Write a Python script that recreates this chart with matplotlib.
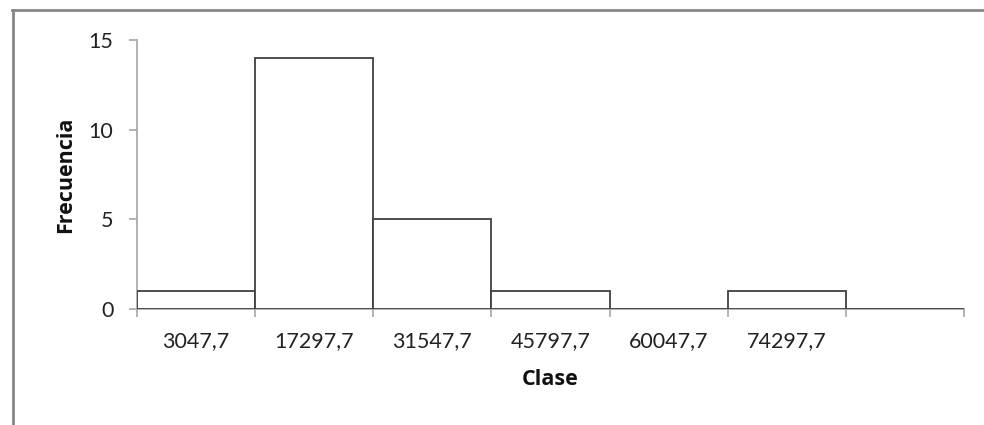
import numpy as np
import matplotlib.pyplot as plt
from matplotlib.lines import Line2D

plt.rcParams['font.family'] = ['Lato', 'DejaVu Sans']

# histogram data (Excel style)
clases = ['3047,7', '17297,7', '31547,7', '45797,7', '60047,7', '74297,7', '']
frecuencia = [1, 14, 5, 1, 0, 1, 0]

fig = plt.figure(figsize=(9.84, 4.25), dpi=100)
ax = fig.add_axes([137/984, 1-309/425, (964-137)/984, (309-40)/425])

x = np.arange(len(clases))
ax.bar(x, frecuencia, width=1.0, color='white', edgecolor='#404040',
       linewidth=1.3, zorder=3)

# axes styling
ax.set_xlim(-0.5, len(clases)-0.5)
ax.set_ylim(0, 15)
ax.set_yticks([0, 5, 10, 15])
ax.set_xticks(x)
ax.set_xticklabels(clases)
ax.set_xticks(np.arange(-0.5, len(clases)), minor=True)
ax.tick_params(axis='x', which='major', length=0, pad=16, labelsize=15.5,
               colors='#222222')
ax.tick_params(axis='x', which='minor', length=6, width=1.2, color='#a6a6a6')
ax.tick_params(axis='y', length=6, width=1.2, color='#a6a6a6', pad=11,
               labelsize=15.5, labelcolor='#222222')
for side in ['top', 'right']:
    ax.spines[side].set_visible(False)
for side in ['left', 'bottom']:
    ax.spines[side].set_color('#a6a6a6')
    ax.spines[side].set_linewidth(1.2)
    ax.spines[side].set_zorder(2)

# bold axis titles
lbl_font = dict(family=['Open Sans', 'DejaVu Sans'], fontsize=15.5,
                fontweight='bold', color='#111111')
ax.set_xlabel('Clase', labelpad=13, **lbl_font)
ax.set_ylabel('Frecuencia', labelpad=9, **lbl_font)

# chart frame
fig.add_artist(Line2D([12.5/984, 12.5/984], [0, 1-10/425],
                      transform=fig.transFigure, color='#868686', lw=2))
fig.add_artist(Line2D([12/984, 1], [1-10/425, 1-10/425],
                      transform=fig.transFigure, color='#868686', lw=2))

plt.savefig('out.png', dpi=100)
